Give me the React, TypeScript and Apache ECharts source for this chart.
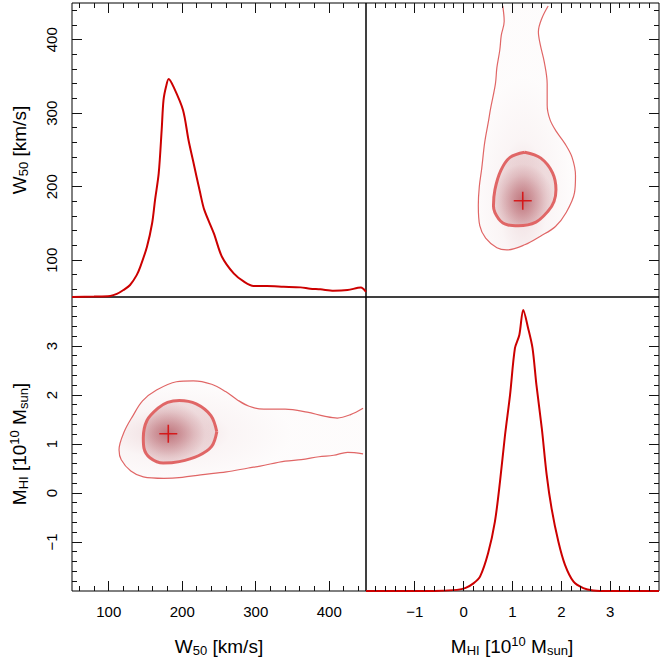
import React, { useEffect, useRef } from "react";
import * as echarts from "echarts";

// ---------- data ----------
const w50Range = [50, 450];
const mhiRange = [-2, 4];

const w50MajorTicks = [100, 200, 300, 400];
const w50MinorTicks = [60, 80, 120, 140, 160, 180, 220, 240, 260, 280, 320, 340, 360, 380, 420, 440];
const mhiMajorTicks = [-1, 0, 1, 2, 3];
const mhiMinorTicks = [
  -1.8, -1.6, -1.4, -1.2, -0.8, -0.6, -0.4, -0.2, 0.2, 0.4, 0.6, 0.8, 1.2, 1.4, 1.6, 1.8, 2.2, 2.4, 2.6, 2.8,
  3.2, 3.4, 3.6, 3.8,
];

// marginal of W50: [W50 km/s, density relative to peak]
const w50Marginal: [number, number][] = [
  [50, 0], [80, 0.002], [102, 0.005], [111, 0.014], [120, 0.032], [129, 0.055], [138, 0.1], [143, 0.139],
  [152, 0.23], [159, 0.337], [163, 0.444], [168, 0.566], [172, 0.764], [174.5, 0.9], [178, 0.962], [181.5, 0.997],
  [188, 0.962], [201, 0.855], [208.5, 0.718], [214.5, 0.626], [224.5, 0.474], [230, 0.398], [243, 0.291], [254, 0.184],
  [270, 0.108], [284, 0.07], [297, 0.05], [315, 0.05], [338, 0.047], [361, 0.044], [374, 0.038], [388, 0.035],
  [406, 0.029], [425, 0.032], [443, 0.043], [450, 0.024],
];

// marginal of MHI: [MHI 1e10 Msun, density relative to peak]
const mhiMarginal: [number, number][] = [
  [-2, 0], [-0.6, 0], [-0.14, 0.004], [0.03, 0.01], [0.2, 0.027], [0.335, 0.051], [0.5, 0.134], [0.64, 0.247],
  [0.744, 0.389], [0.847, 0.555], [0.95, 0.698], [1.05, 0.864], [1.14, 0.911], [1.22, 1.0], [1.32, 0.935],
  [1.41, 0.864], [1.49, 0.733], [1.6, 0.579], [1.7, 0.413], [1.8, 0.294], [1.94, 0.175], [2.075, 0.093],
  [2.25, 0.033], [2.45, 0.01], [2.65, 0.002], [3, 0], [4, 0],
];

// joint contours: [W50, MHI]
const outerContour: [number, number][] = [
  [446, 1.73], [429, 1.6], [411, 1.53], [393, 1.57], [370, 1.65], [340, 1.71], [311, 1.71], [291, 1.77],
  [275, 1.9], [259, 2.07], [240, 2.22], [215, 2.29], [192, 2.27], [165, 2.1], [146, 1.88], [133, 1.58],
  [121, 1.25], [114, 0.88], [117, 0.68], [130, 0.45], [147, 0.33], [175, 0.3], [200, 0.32], [225, 0.37],
  [260, 0.43], [290, 0.51], [306, 0.55], [340, 0.65], [362, 0.68], [386, 0.74], [406, 0.77], [425, 0.83],
  [446, 0.8],
];
const innerContour: [number, number][] = [
  [247, 1.25], [239, 1.58], [219, 1.82], [196, 1.89], [180, 1.85], [167, 1.73], [152, 1.48], [147, 1.12],
  [148, 0.91], [156, 0.72], [174, 0.61], [196, 0.64], [222, 0.76], [240, 0.95], [247, 1.25],
];
const peak: [number, number] = [181, 1.21];

// ---------- styling ----------
const FONT = "'Liberation Sans', Arial, Helvetica, sans-serif";
const CURVE = "#CC0000";
const CONTOUR = "#E06666";
const CROSS = "#D80000";
const SHADE = [150, 28, 40];
const rgba = (a: number) => `rgba(${SHADE[0]},${SHADE[1]},${SHADE[2]},${a})`;
const minus = (v: number) => (v < 0 ? "\u2212" + Math.abs(v) : String(v));

type Side = "top" | "bottom" | "left" | "right";

function scaleAxis(gridIndex: number, position: Side, range: number[]) {
  return {
    type: "value",
    gridIndex,
    position,
    min: range[0],
    max: range[1],
    axisLine: { show: false, onZero: false },
    axisTick: { show: false },
    splitLine: { show: false },
    axisLabel: { show: false },
  };
}
function hiddenAxis(gridIndex: number, position: Side, max: number) {
  return { type: "value", gridIndex, position, min: 0, max, show: false, axisLine: { onZero: false } };
}

interface TickSpec {
  side: Side;
  major: number[];
  minor: number[];
  labels?: boolean;
}
function tickSeries(xAxisIndex: number, yAxisIndex: number, xRange: number[], yRange: number[], specs: TickSpec[]) {
  return {
    type: "custom",
    xAxisIndex,
    yAxisIndex,
    silent: true,
    z: 6,
    clip: false,
    data: [[xRange[0], yRange[0]]],
    renderItem: (params: any, api: any) => {
      const cs = params.coordSys;
      const children: any[] = [];
      const labelStyle = (text: string) => ({
        text,
        fill: "#000",
        font: `15px ${FONT}`,
        align: "center",
        verticalAlign: "middle",
        textAlign: "center",
        textVerticalAlign: "middle",
      });
      const bar = (x: number, y: number, w: number, h: number) => ({
        type: "rect",
        shape: { x, y, width: w, height: h },
        style: { fill: "#111", stroke: "none" },
      });
      const left = Math.round(cs.x), right = Math.round(cs.x + cs.width);
      const top = Math.round(cs.y), bottom = Math.round(cs.y + cs.height);
      for (const s of specs) {
        const horizontal = s.side === "top" || s.side === "bottom";
        const add = (v: number, len: number, label: boolean) => {
          if (horizontal) {
            const px = api.coord([v, yRange[0]])[0];
            const x = Math.round(px - 0.5);
            const y0 = s.side === "top" ? top : bottom - len;
            children.push(bar(x, y0, 1, len));
            if (label) children.push({ type: "text", x: px, y: cs.y + cs.height + 20.5, style: labelStyle(minus(v)) });
          } else {
            const py = api.coord([xRange[0], v])[1];
            const y = Math.round(py - 0.5);
            const x0 = s.side === "left" ? left : right - len;
            children.push(bar(x0, y, len, 1));
            if (label)
              children.push({ type: "text", x: cs.x - 20.3, y: py, rotation: Math.PI / 2, style: labelStyle(minus(v)) });
          }
        };
        s.major.forEach((v) => add(v, 10, !!s.labels));
        s.minor.forEach((v) => add(v, 5, false));
      }
      return { type: "group", children };
    },
  };
}

function shadeRenderer(transpose: boolean) {
  return (_params: any, api: any) => {
    const toPx = (p: [number, number]) => api.coord(transpose ? [p[1], p[0]] : p);
    const pk = toPx(peak);
    const grad = (pts: number[][], r: number, stops: [number, number][]) => {
      const xs = pts.map((p) => p[0]);
      const ys = pts.map((p) => p[1]);
      const x0 = Math.min(...xs), x1 = Math.max(...xs), y0 = Math.min(...ys), y1 = Math.max(...ys);
      return new echarts.graphic.RadialGradient(
        (pk[0] - x0) / (x1 - x0),
        (pk[1] - y0) / (y1 - y0),
        r,
        stops.map(([o, a]) => ({ offset: o, color: rgba(a) }))
      );
    };
    const outerPts = outerContour.map(toPx);
    const innerPts = innerContour.slice(0, -1).map(toPx);
    return {
      type: "group",
      children: [
        {
          type: "polygon",
          shape: { points: outerPts, smooth: 0.3 },
          style: { fill: grad(outerPts, 0.5, [[0, 0.18], [0.25, 0.1], [0.5, 0.045], [1, 0.015]]), stroke: "none" },
        },
        {
          type: "polygon",
          shape: { points: innerPts, smooth: 0.3 },
          style: { fill: grad(innerPts, 0.5, [[0, 0.52], [0.35, 0.38], [0.7, 0.22], [1, 0.12]]), stroke: "none" },
        },
      ],
    };
  };
}

function jointSeries(xAxisIndex: number, yAxisIndex: number, transpose: boolean) {
  const tp = (p: [number, number]) => (transpose ? [p[1], p[0]] : p);
  return [
    {
      type: "custom",
      xAxisIndex,
      yAxisIndex,
      silent: true,
      z: 1,
      renderItem: shadeRenderer(transpose),
      data: [tp(peak)],
    },
    {
      type: "line",
      xAxisIndex,
      yAxisIndex,
      data: outerContour.map(tp),
      symbol: "none",
      smooth: 0.35,
      z: 3,
      lineStyle: { color: CONTOUR, width: 1.2 },
      silent: true,
    },
    {
      type: "line",
      xAxisIndex,
      yAxisIndex,
      data: innerContour.map(tp),
      symbol: "none",
      smooth: 0.35,
      z: 3,
      lineStyle: { color: CONTOUR, width: 3 },
      silent: true,
    },
    {
      type: "scatter",
      xAxisIndex,
      yAxisIndex,
      data: [tp(peak)],
      symbol: "path://M0,9L18,9M9,0L9,18",
      symbolSize: 18,
      z: 4,
      itemStyle: { color: "transparent", borderColor: CROSS, borderWidth: 1.6 },
      silent: true,
    },
  ];
}

const titleRich = {
  m: { fontSize: 19, fontFamily: FONT, lineHeight: 24, fill: "#000" },
  s: { fontSize: 13, fontFamily: FONT, lineHeight: 13, padding: [9, 0, 0, 0], fill: "#000" },
  p: { fontSize: 13, fontFamily: FONT, lineHeight: 13, padding: [0, 0, 9, 0], fill: "#000" },
};
const W50_TITLE = "{m|W}{s|50}{m| [km/s]}";
const MHI_TITLE = "{m|M}{s|HI}{m| [10}{p|10}{m| M}{s|sun}{m|]}";

function titleText(text: string, x: number, y: number, rotation = 0) {
  return {
    type: "text",
    x,
    y,
    rotation,
    silent: true,
    style: {
      text,
      rich: titleRich,
      fill: "#000",
      font: `19px ${FONT}`,
      align: "center",
      verticalAlign: "middle",
      textAlign: "center",
      textVerticalAlign: "middle",
    },
  };
}

export default function App() {
  const ref = useRef<HTMLDivElement>(null);
  useEffect(() => {
    if (!ref.current) return;
    const chart = echarts.init(ref.current, undefined, { renderer: "svg" });
    const gridBase = {
      show: true,
      borderColor: "#000",
      borderWidth: 1,
      backgroundColor: "transparent",
      containLabel: false,
      outerBoundsMode: "none",
    };
    const option: any = {
      animation: false,
      grid: [
        { ...gridBase, left: 72, top: 3, width: 294, height: 294 },
        { ...gridBase, left: 366, top: 3, width: 293, height: 294 },
        { ...gridBase, left: 72, top: 297, width: 294, height: 294 },
        { ...gridBase, left: 366, top: 297, width: 293, height: 294 },
      ],
      xAxis: [
        scaleAxis(0, "top", w50Range),
        scaleAxis(1, "top", mhiRange),
        scaleAxis(2, "bottom", w50Range),
        scaleAxis(3, "bottom", mhiRange),
      ],
      yAxis: [
        scaleAxis(0, "left", w50Range),
        hiddenAxis(0, "right", 1.344),
        scaleAxis(1, "right", w50Range),
        scaleAxis(2, "left", mhiRange),
        scaleAxis(3, "right", mhiRange),
        hiddenAxis(3, "left", 1.046),
      ],
      series: [
        {
          type: "line",
          xAxisIndex: 0,
          yAxisIndex: 1,
          data: w50Marginal,
          symbol: "none",
          smooth: 0.3,
          lineStyle: { color: CURVE, width: 2 },
          silent: true,
          z: 3,
        },
        {
          type: "line",
          xAxisIndex: 3,
          yAxisIndex: 5,
          data: mhiMarginal,
          symbol: "none",
          smooth: 0.3,
          lineStyle: { color: CURVE, width: 2 },
          silent: true,
          z: 3,
        },
        ...jointSeries(1, 2, true),
        ...jointSeries(2, 3, false),
        tickSeries(0, 0, w50Range, w50Range, [
          { side: "top", major: w50MajorTicks, minor: w50MinorTicks },
          { side: "left", major: w50MajorTicks, minor: w50MinorTicks, labels: true },
        ]),
        tickSeries(1, 2, mhiRange, w50Range, [
          { side: "top", major: mhiMajorTicks, minor: mhiMinorTicks },
          { side: "right", major: w50MajorTicks, minor: w50MinorTicks },
        ]),
        tickSeries(2, 3, w50Range, mhiRange, [
          { side: "bottom", major: w50MajorTicks, minor: w50MinorTicks, labels: true },
          { side: "left", major: mhiMajorTicks, minor: mhiMinorTicks, labels: true },
        ]),
        tickSeries(3, 4, mhiRange, mhiRange, [
          { side: "bottom", major: mhiMajorTicks, minor: mhiMinorTicks, labels: true },
          { side: "right", major: mhiMajorTicks, minor: mhiMinorTicks },
        ]),
      ],
      graphic: [
        titleText(W50_TITLE, 219, 646),
        titleText(MHI_TITLE, 512, 646),
        titleText(W50_TITLE, 19, 150, Math.PI / 2),
        titleText(MHI_TITLE, 19, 444, Math.PI / 2),
      ],
    };
    chart.setOption(option);
    return () => chart.dispose();
  }, []);
  return (
    <div
      ref={ref}
      style={{ position: "fixed", left: 0, top: 0, width: 664, height: 664, background: "#fff" }}
    />
  );
}
